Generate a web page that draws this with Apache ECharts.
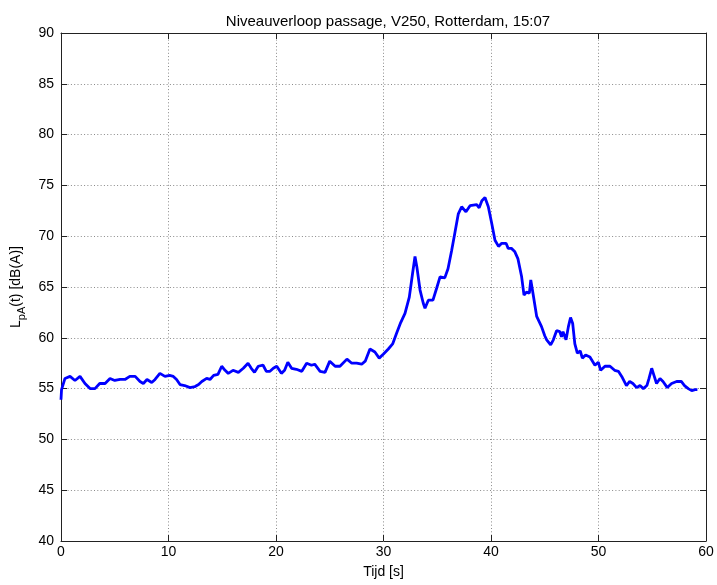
<!DOCTYPE html>
<html>
<head>
<meta charset="utf-8">
<script src="https://cdn.jsdelivr.net/npm/echarts@6/dist/echarts.min.js"></script>
<style>
  html, body { margin: 0; padding: 0; background: #fff; }
  #chart { width: 717px; height: 585px; }
</style>
</head>
<body>
<div id="chart"></div>
<script>
  // tijd in seconden
  const tijd = [
    0, 0.05, 0.37, 0.84, 1.3, 1.77, 2.23, 2.7, 3.16, 3.6,
    4.1, 4.56, 5.0, 5.5, 5.95, 6.4, 6.9, 7.35, 7.66, 8.0,
    8.44, 8.75, 9.2, 9.67, 10.1, 10.45, 10.75, 11.07, 11.5, 12.0,
    12.47, 12.8, 13.1, 13.55, 13.86, 14.2, 14.6, 14.95, 15.26, 15.56,
    16.0, 16.5, 16.96, 17.4, 17.7, 18.0, 18.35, 18.8, 19.1, 19.44,
    19.75, 20.07, 20.5, 20.8, 21.1, 21.45, 21.9, 22.4, 22.85, 23.3,
    23.6, 24.1, 24.56, 25.0, 25.5, 25.95, 26.6, 27.05, 27.5, 27.97,
    28.3, 28.74, 29.2, 29.6, 30.0, 30.45, 30.85, 31.2, 31.6, 32.0,
    32.4, 32.7, 32.93, 33.1, 33.4, 33.7, 33.86, 34.17, 34.6, 34.95,
    35.26, 35.7, 36.0, 36.34, 36.65, 36.96, 37.27, 37.67, 38.05, 38.67,
    38.9, 39.15, 39.44, 39.75, 40.06, 40.37, 40.7, 41.0, 41.4, 41.6,
    41.9, 42.2, 42.5, 42.85, 43.07, 43.3, 43.57, 43.7, 43.9, 44.25,
    44.7, 45.0, 45.18, 45.55, 45.8, 46.1, 46.4, 46.56, 46.7, 46.98,
    47.2, 47.4, 47.6, 47.8, 48.03, 48.3, 48.5, 48.8, 49.2, 49.67,
    49.98, 50.2, 50.6, 51.07, 51.5, 51.85, 52.16, 52.6, 52.9, 53.2,
    53.55, 53.86, 54.17, 54.5, 54.7, 54.95, 55.16, 55.4, 55.72, 56.0,
    56.4, 56.8, 57.27, 57.7, 58.0, 58.35, 58.67, 58.98, 59.2
  ]
  // LpA(t) in dB(A)
  const niveau = [
    53.9, 54.9, 56.0, 56.2, 55.8, 56.2, 55.5, 55.0, 55.0, 55.5,
    55.5, 56.0, 55.8, 55.9, 55.9, 56.2, 56.2, 55.7, 55.5, 55.9,
    55.6, 55.9, 56.5, 56.2, 56.3, 56.2, 55.9, 55.4, 55.3, 55.1,
    55.2, 55.4, 55.7, 56.0, 55.9, 56.3, 56.4, 57.2, 56.8, 56.5,
    56.8, 56.6, 57.0, 57.5, 57.0, 56.6, 57.2, 57.3, 56.7, 56.7,
    57.0, 57.2, 56.5, 56.8, 57.6, 57.0, 56.9, 56.7, 57.5, 57.3,
    57.4, 56.7, 56.6, 57.7, 57.2, 57.2, 57.9, 57.5, 57.5, 57.4,
    57.7, 58.9, 58.6, 58.0, 58.4, 58.9, 59.4, 60.4, 61.5, 62.4,
    64.0, 66.3, 68.0, 67.0, 64.7, 63.4, 62.9, 63.7, 63.7, 64.9,
    66.0, 65.9, 66.8, 68.6, 70.4, 72.2, 72.9, 72.4, 73.0, 73.1,
    72.8, 73.5, 73.8, 72.9, 71.3, 69.6, 69.0, 69.3, 69.3, 68.8,
    68.8, 68.5, 67.8, 66.0, 64.2, 64.5, 64.4, 65.7, 64.4, 62.1,
    61.1, 60.2, 59.8, 59.3, 59.8, 60.7, 60.6, 60.1, 60.6, 59.8,
    61.1, 62.0, 61.4, 59.4, 58.5, 58.7, 58.0, 58.3, 58.1, 57.3,
    57.6, 56.8, 57.2, 57.2, 56.8, 56.7, 56.2, 55.3, 55.7, 55.5,
    55.1, 55.3, 55.0, 55.3, 56.0, 57.0, 56.3, 55.5, 56.0, 55.7,
    55.1, 55.5, 55.7, 55.7, 55.3, 55.0, 54.8, 54.9, 54.9
  ]

  const xMin = 0, xMax = 60, xStep = 10
  const yMin = 40, yMax = 90, yStep = 5

  const font = 'Liberation Sans, Arial, sans-serif'
  const data = tijd.map((t, i) => [t, niveau[i]])

  const chart = echarts.init(document.getElementById('chart'), null, {renderer: 'canvas'})

  const gridLine = {show: true, lineStyle: {color: '#8a8a8a', type: [1, 2.3], width: 1}}
  const axisLine = {show: true, onZero: false, lineStyle: {color: '#222', width: 1}}
  const tick = {show: true, inside: true, length: 6, lineStyle: {color: '#222'}}

  let option = {
    animation: false,
    backgroundColor: '#fff',
    title: {
      text: 'Niveauverloop passage, V250, Rotterdam, 15:07',
      left: 383,
      textAlign: 'center',
      top: 9,
      textStyle: {fontFamily: font, fontSize: 15, fontWeight: 'normal', color: '#000'}
    },
    grid: {left: 61, right: 11, top: 33, bottom: 44},
    xAxis: [
      {
        type: 'value', min: xMin, max: xMax, interval: xStep,
        name: 'Tijd [s]', nameLocation: 'middle', nameGap: 24,
        nameTextStyle: {fontFamily: font, fontSize: 14, color: '#000'},
        axisLine: axisLine, axisTick: tick, splitLine: gridLine,
        axisLabel: {fontFamily: font, fontSize: 14, color: '#000', margin: 4}
      },
      {
        type: 'value', position: 'top', min: xMin, max: xMax, interval: xStep,
        axisLine: axisLine, axisTick: tick, splitLine: {show: false},
        axisLabel: {show: false}
      }
    ],
    yAxis: [
      {
        type: 'value', min: yMin, max: yMax, interval: yStep,
        name: '{a|L}{b|pA}{a|(t) [dB(A)]}', nameLocation: 'middle', nameGap: 30, nameRotate: 90,
        nameTextStyle: {
          color: '#000',
          rich: {
            a: {fontFamily: font, fontSize: 14, color: '#000', lineHeight: 22, verticalAlign: 'middle'},
            b: {fontFamily: font, fontSize: 11, color: '#000', lineHeight: 22, verticalAlign: 'bottom', padding: [8, 0, 0, 0]}
          }
        },
        axisLine: axisLine, axisTick: tick, splitLine: gridLine,
        axisLabel: {fontFamily: font, fontSize: 14, color: '#000', margin: 7}
      },
      {
        type: 'value', position: 'right', min: yMin, max: yMax, interval: yStep,
        axisLine: axisLine, axisTick: tick, splitLine: {show: false},
        axisLabel: {show: false}
      }
    ],
    series: [
      {
        name: 'LpA',
        type: 'line',
        data: data,
        showSymbol: false,
        smooth: false,
        lineStyle: {color: '#0000ff', width: 2.8},
        itemStyle: {color: '#0000ff'}
      }
    ]
  }

  chart.setOption(option)
</script>
</body>
</html>
